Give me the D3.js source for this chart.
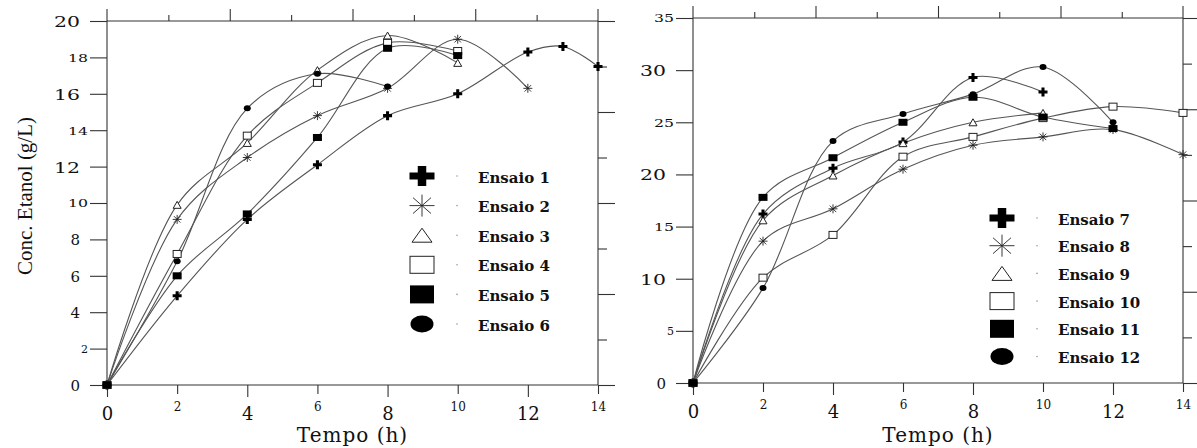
<!DOCTYPE html>
<html>
<head>
<meta charset="utf-8">
<script src="https://cdn.jsdelivr.net/npm/d3@7"></script>
<style>
  body { margin: 0; background: #fff; }
  svg { display: block; }
</style>
</head>
<body>
<div id="mainDiv"></div>
<script>
// dados: [tempo (h), etanol (g/L)]
var ensaio1 = [[0, 0], [2, 4.9], [4, 9.1], [6, 12.1], [8, 14.8], [10, 16.0], [12, 18.3], [13, 18.6], [14, 17.5]];
var ensaio2 = [[0, 0], [2, 9.1], [4, 12.5], [6, 14.8], [8, 16.3], [10, 19.0], [12, 16.3]];
var ensaio3 = [[0, 0], [2, 9.9], [4, 13.3], [6, 17.3], [8, 19.2], [10, 17.7]];
var ensaio4 = [[0, 0], [2, 7.2], [4, 13.7], [6, 16.6], [8, 18.8], [10, 18.35]];
var ensaio5 = [[0, 0], [2, 6.0], [4, 9.4], [6, 13.6], [8, 18.5], [10, 18.1]];
var ensaio6 = [[0, 0], [2, 6.8], [4, 15.2], [6, 17.1], [8, 16.4]];

var ensaio7 = [[0, 0], [2, 16.2], [4, 20.6], [6, 23.1], [8, 29.3], [10, 27.9]];
var ensaio8 = [[0, 0], [2, 13.6], [4, 16.7], [6, 20.5], [8, 22.8], [10, 23.6], [12, 24.3], [14, 21.9]];
var ensaio9 = [[0, 0], [2, 15.6], [4, 19.9], [6, 23.0], [8, 25.0], [10, 25.9]];
var ensaio10 = [[0, 0], [2, 10.1], [4, 14.2], [6, 21.7], [8, 23.6], [10, 25.4], [12, 26.5], [14, 25.9]];
var ensaio11 = [[0, 0], [2, 17.8], [4, 21.6], [6, 25.0], [8, 27.4], [10, 25.5], [12, 24.4]];
var ensaio12 = [[0, 0], [2, 9.1], [4, 23.2], [6, 25.8], [8, 27.7], [10, 30.3], [12, 25.0]];

var nomesEsq = ["Ensaio 1", "Ensaio 2", "Ensaio 3", "Ensaio 4", "Ensaio 5", "Ensaio 6"];
var nomesDir = ["Ensaio 7", "Ensaio 8", "Ensaio 9", "Ensaio 10", "Ensaio 11", "Ensaio 12"];
var simbolos = ["plus", "star", "tri", "sq", "fsq", "dot"];

var xTicks = [0, 2, 4, 6, 8, 10, 12, 14];
var yTicksEsq = [0, 2, 4, 6, 8, 10, 12, 14, 16, 18, 20];
var yTicksDir = [0, 5, 10, 15, 20, 25, 30, 35];

var mySvg = d3.select("#mainDiv").append("svg")
    .attr("width", 1197)
    .attr("height", 448);

// caminhos dos simbolos
function marker(g, tipo, w, h) {
    var a = w / 2, b = h / 2, p;
    if (tipo == "plus") {
        var t1 = h * 0.17, t2 = w * 0.17;
        p = g.append("path")
             .attr("d", "M" + (-a) + "," + (-t1) + "H" + a + "V" + t1 + "H" + (-a) + "Z" +
                        "M" + (-t2) + "," + (-b) + "H" + t2 + "V" + b + "H" + (-t2) + "Z")
             .attr("fill", "#000");
    } else if (tipo == "star") {
        var c = 0.72;
        p = g.append("path")
             .attr("d", "M" + (-a) + ",0H" + a + "M0," + (-b) + "V" + b +
                        "M" + (-a * c) + "," + (-b * c) + "L" + (a * c) + "," + (b * c) +
                        "M" + (-a * c) + "," + (b * c) + "L" + (a * c) + "," + (-b * c))
             .attr("fill", "none").attr("stroke", "#222").attr("stroke-width", 0.9);
    } else if (tipo == "tri") {
        p = g.append("path")
             .attr("d", "M0," + (-b) + "L" + a + "," + b + "H" + (-a) + "Z")
             .attr("fill", "#fff").attr("stroke", "#222").attr("stroke-width", 1);
    } else if (tipo == "sq") {
        p = g.append("rect").attr("x", -a).attr("y", -b).attr("width", w).attr("height", h)
             .attr("fill", "#fff").attr("stroke", "#222").attr("stroke-width", 1);
    } else if (tipo == "fsq") {
        p = g.append("rect").attr("x", -a).attr("y", -b).attr("width", w).attr("height", h)
             .attr("fill", "#000");
    } else {
        p = g.append("ellipse").attr("rx", a).attr("ry", b).attr("fill", "#000");
    }
    return p;
}

var miniTam = {plus: [9, 9], star: [9, 9], tri: [8, 7], sq: [8, 7], fsq: [9, 7], dot: [7, 6]};
var legTam = {plus: [25, 20], star: [25, 22], tri: [20, 14], sq: [24, 17], fsq: [24, 18], dot: [23, 17]};

function painel(cfg) {
    var x = d3.scaleLinear().domain([0, 14]).range([cfg.x0, cfg.x1]);
    var y = d3.scaleLinear().domain([0, cfg.ymax]).range([cfg.y0, cfg.y1]);
    var g = mySvg.append("g");

    // eixo y esquerdo
    var ay = g.append("g").attr("transform", "translate(" + cfg.x0 + ",0)")
        .call(d3.axisLeft(y).tickValues(cfg.yTicks).tickSize(17).tickSizeOuter(0));
    ay.select(".domain").remove();
    ay.selectAll("text").each(function(d, i) {
        var grande = cfg.yGrande[i];
        var s = String(d);
        d3.select(this)
          .attr("font-family", "DejaVu Serif")
          .attr("font-size", grande ? 15 : 11)
          .attr("x", grande ? -27 : -19)
          .attr("dy", "0.36em")
          .attr("fill", "#111");
        if (s.length > 1) {
            d3.select(this).attr("textLength", grande ? 26 : 20).attr("lengthAdjust", "spacingAndGlyphs");
        }
    });

    // eixo x inferior
    var ax = g.append("g").attr("transform", "translate(0," + cfg.y0 + ")")
        .call(d3.axisBottom(x).tickValues(xTicks).tickSize(11).tickSizeOuter(0));
    ax.select(".domain").remove();
    ax.selectAll("text").each(function(d, i) {
        var grande = (i % 2 == 0);
        d3.select(this)
          .attr("font-family", "DejaVu Serif")
          .attr("font-size", grande ? 18 : 12)
          .attr("y", grande ? 22 : 18)
          .attr("dy", "0.7em")
          .attr("fill", "#111");
    });
    ax.selectAll("line").attr("y2", function(d, i) { return i % 2 == 0 ? 12 : 9; });

    // eixo superior (8 divisoes)
    var topo = d3.scaleLinear().domain([0, 8]).range([cfg.x0, cfg.x1]);
    var at = g.append("g").attr("transform", "translate(0," + cfg.y1 + ")")
        .call(d3.axisTop(topo).tickValues([1, 2, 3, 4, 5, 6, 7]).tickSize(12).tickFormat(""));
    at.select(".domain").remove();
    at.selectAll("line").attr("y2", function(d) { return d % 2 == 0 ? -12 : -6; });

    // eixo direito (8 divisoes)
    var dir = d3.scaleLinear().domain([0, 8]).range([cfg.y0, cfg.y1]);
    var ar = g.append("g").attr("transform", "translate(" + cfg.x1 + ",0)")
        .call(d3.axisRight(dir).tickValues([0, 1, 2, 3, 4, 5, 6, 7, 8]).tickSize(17).tickFormat(""));
    ar.select(".domain").remove();
    ar.selectAll("line").attr("x2", function(d) { return d % 2 == 0 ? 17 : 9; });

    // linhas da moldura
    g.append("line").attr("x1", cfg.x0).attr("x2", cfg.x0).attr("y1", cfg.y1 - 12).attr("y2", cfg.y0);
    g.append("line").attr("x1", cfg.x1).attr("x2", cfg.x1).attr("y1", cfg.y1 - 12).attr("y2", cfg.y0);
    g.append("line").attr("x1", cfg.x0).attr("x2", cfg.x1).attr("y1", cfg.y1).attr("y2", cfg.y1);
    g.append("line").attr("x1", cfg.x0).attr("x2", cfg.x1).attr("y1", cfg.y0).attr("y2", cfg.y0);
    g.selectAll("line").attr("stroke", "#333").attr("stroke-width", 1.1);

    // curvas
    var linha = d3.line()
        .x(function(d) { return x(d[0]); })
        .y(function(d) { return y(d[1]); })
        .curve(d3.curveCatmullRom.alpha(0.5));
    cfg.series.forEach(function(s) {
        g.append("path").attr("d", linha(s))
         .attr("fill", "none").attr("stroke", "#555").attr("stroke-width", 1.1);
    });
    cfg.series.forEach(function(s, k) {
        var tipo = simbolos[k];
        s.forEach(function(d) {
            var m = g.append("g").attr("transform", "translate(" + x(d[0]) + "," + y(d[1]) + ")");
            marker(m, tipo, miniTam[tipo][0], miniTam[tipo][1]);
        });
    });

    // legenda
    cfg.nomes.forEach(function(nome, k) {
        var ly = cfg.legY + k * cfg.legPasso;
        var tipo = simbolos[k];
        var m = g.append("g").attr("transform", "translate(" + cfg.legX + "," + ly + ")");
        marker(m, tipo, legTam[tipo][0], legTam[tipo][1]);
        g.append("circle").attr("cx", cfg.legX + 35).attr("cy", ly).attr("r", 0.8).attr("fill", "#999");
        g.append("text").text(nome)
         .attr("x", cfg.legX + 56).attr("y", ly + 6.5)
         .attr("font-family", "DejaVu Serif").attr("font-weight", "bold")
         .attr("font-size", 15).attr("fill", "#111");
    });

    // titulo eixo x
    g.append("text").text("Tempo (h)")
     .attr("x", (cfg.x0 + cfg.x1) / 2).attr("y", 442)
     .attr("text-anchor", "middle")
     .attr("font-family", "DejaVu Serif").attr("font-size", 20)
     .attr("letter-spacing", 1).attr("fill", "#111");
}

painel({
    x0: 107, x1: 598, y0: 385, y1: 21, ymax: 20,
    yTicks: yTicksEsq,
    yGrande: [true, false, true, true, true, false, true, false, true, false, true],
    series: [ensaio1, ensaio2, ensaio3, ensaio4, ensaio5, ensaio6],
    nomes: nomesEsq, legX: 422, legY: 176, legPasso: 29.6
});

painel({
    x0: 693, x1: 1183, y0: 383, y1: 18, ymax: 35,
    yTicks: yTicksDir,
    yGrande: [true, false, true, false, true, false, true, false],
    series: [ensaio7, ensaio8, ensaio9, ensaio10, ensaio11, ensaio12],
    nomes: nomesDir, legX: 1002, legY: 218, legPasso: 27.7
});

// titulo eixo y
mySvg.append("text").text("Conc. Etanol (g/L)")
     .attr("transform", "translate(32,196) rotate(-90)")
     .attr("text-anchor", "middle")
     .attr("font-family", "Liberation Serif").attr("font-size", 21)
     .attr("fill", "#111");
</script>
</body>
</html>
